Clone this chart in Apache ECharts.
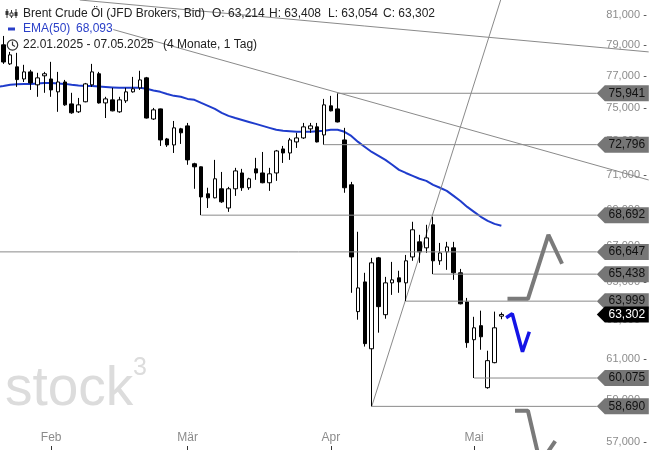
<!DOCTYPE html>
<html><head><meta charset="utf-8">
<script src="https://cdn.jsdelivr.net/npm/echarts@6/dist/echarts.min.js"></script>
<style>html,body{margin:0;padding:0;background:#fff}#c{width:650px;height:450px}</style>
</head><body><div id="c"></div>
<script>
// ---- data ----
const dates = ['2025-01-22','2025-01-23','2025-01-24','2025-01-27','2025-01-28','2025-01-29','2025-01-30','2025-01-31',
'2025-02-03','2025-02-04','2025-02-05','2025-02-06','2025-02-07','2025-02-10','2025-02-11','2025-02-12','2025-02-13','2025-02-14',
'2025-02-17','2025-02-18','2025-02-19','2025-02-20','2025-02-21','2025-02-24','2025-02-25','2025-02-26','2025-02-27','2025-02-28',
'2025-03-03','2025-03-04','2025-03-05','2025-03-06','2025-03-07','2025-03-10','2025-03-11','2025-03-12','2025-03-13','2025-03-14',
'2025-03-17','2025-03-18','2025-03-19','2025-03-20','2025-03-21','2025-03-24','2025-03-25','2025-03-26','2025-03-27','2025-03-28','2025-03-31',
'2025-04-01','2025-04-02','2025-04-03','2025-04-04','2025-04-07','2025-04-08','2025-04-09','2025-04-10','2025-04-11','2025-04-14',
'2025-04-15','2025-04-16','2025-04-17','2025-04-21','2025-04-22','2025-04-23','2025-04-24','2025-04-25','2025-04-28','2025-04-29','2025-04-30',
'2025-05-01','2025-05-02','2025-05-05','2025-05-06','2025-05-07'];
const futureDates = ['2025-05-08','2025-05-09','2025-05-12','2025-05-13','2025-05-14','2025-05-15','2025-05-16','2025-05-19','2025-05-20',
'2025-05-21','2025-05-22','2025-05-23','2025-05-26','2025-05-27','2025-05-28','2025-05-29','2025-05-30','2025-06-02','2025-06-03','2025-06-04','2025-06-05'];

const open = [79.90,79.03,77.80,77.61,76.84,77.29,76.47,77.04,76.84,76.03,
 76.65,75.28,74.79,75.41,76.47,77.17,75.34,75.53,74.79,75.47,
 76.03,76.28,76.91,74.35,74.97,73.14,72.78,73.75,73.93,71.66,
 71.48,69.91,69.68,70.20,69.10,70.20,71.12,70.26,71.36,71.12,
 70.55,71.12,72.54,72.30,72.96,73.20,73.75,73.87,73.38,75.16,
 74.97,73.08,70.43,63.45,65.02,61.54,66.32,63.29,64.97,65.24,
 64.97,66.37,67.20,66.87,68.15,66.16,66.65,66.87,65.51,63.96,
 62.00,62.72,59.60,60.84,63.214];
const high = [80.30,79.61,78.57,78.51,77.74,77.42,77.23,77.29,77.93,77.29,
 76.78,75.97,75.65,76.59,77.80,77.29,75.72,76.28,75.72,76.28,
 76.97,77.36,76.97,75.03,74.99,73.20,74.23,73.81,74.11,71.72,
 71.50,70.26,71.89,71.18,70.31,71.42,71.36,70.84,72.01,72.36,
 71.42,72.48,72.72,73.20,73.51,74.11,74.11,74.11,75.59,75.78,
 75.941,73.81,70.60,67.76,65.51,66.32,66.37,65.29,66.10,65.62,
 66.48,68.32,67.59,68.15,68.60,67.14,67.20,67.20,65.72,64.17,
 63.18,63.50,61.44,63.45,63.408];
const low = [78.80,77.80,77.73,76.34,76.65,76.15,75.72,75.97,75.72,74.79,
 75.16,74.67,74.72,75.38,76.34,75.30,74.41,74.82,74.73,75.34,
 75.98,76.15,74.38,74.29,72.72,72.66,72.30,72.84,71.60,70.20,
 68.692,69.10,69.65,69.39,68.88,69.79,70.08,70.14,70.72,70.52,
 70.08,70.66,71.71,71.89,72.60,73.14,73.51,72.93,72.796,74.82,
 74.14,69.97,64.44,63.03,61.65,58.69,62.36,63.08,64.33,64.44,
 63.999,66.16,66.05,66.59,65.438,65.94,65.67,65.13,63.83,61.59,
 60.075,61.49,59.55,60.81,63.054];
const close = [79.10,77.92,78.38,76.80,77.29,76.59,76.91,77.17,76.15,76.65,
 75.22,74.73,75.22,76.53,77.29,75.34,75.59,74.85,75.53,76.03,
 76.22,76.78,74.41,74.91,73.08,72.78,73.81,73.51,71.89,71.48,
 69.73,69.68,70.78,69.45,70.20,71.24,70.26,70.78,71.12,70.55,
 71.07,72.42,72.30,73.08,73.20,73.87,73.93,72.96,75.22,74.85,
 74.17,70.26,66.37,64.70,61.80,66.05,63.71,64.97,65.13,65.02,
 66.16,67.87,66.65,67.42,66.16,66.59,66.92,65.51,63.86,61.85,
 62.61,62.15,60.94,62.61,63.302];
const ema50 = [76.34,76.40,76.47,76.50,76.53,76.53,76.56,76.59,76.59,76.56,
 76.53,76.47,76.43,76.40,76.40,76.37,76.34,76.31,76.28,76.28,
 76.28,76.28,76.22,76.12,76.03,75.90,75.78,75.72,75.59,75.53,
 75.34,75.16,74.97,74.73,74.54,74.41,74.29,74.17,74.05,73.93,
 73.81,73.69,73.63,73.60,73.57,73.57,73.57,73.60,73.63,73.69,
 73.69,73.57,73.32,72.96,72.66,72.36,72.13,71.89,71.60,71.30,
 71.12,70.95,70.78,70.66,70.43,70.26,70.08,69.79,69.50,69.16,
 68.88,68.60,68.37,68.20,68.093];

const yTicks = [57,59,61,63,65,67,69,71,73,75,77,79,81];
const yMin = 56.62, yMax = 82.0;
const monthTickDates = ['2025-02-03','2025-03-03','2025-04-01','2025-05-01'];
const monthTickLabels = ['Feb','Mär','Apr','Mai'];

// horizontal levels and the date where each starts (null = left edge)
const levels = [75.941, 72.796, 68.692, 66.647, 65.438, 63.999, 60.075, 58.690];
const levelStart = ['2025-04-02','2025-03-31','2025-03-05', null,'2025-04-23','2025-04-16','2025-05-01','2025-04-09'];
const tagDate = '2025-05-27';

// drawn trend lines: [trading-day index, price]
const trendA = [[12.2, 82.0], [95.6, 78.57]];
const trendB = [[17.1, 80.03], [95.6, 70.71]];
const trendC = [[55, 58.69], [73.9, 82.0]];
const scenarioUp = [[74.9, 64.12], [77.9, 64.12], [80.9, 67.59], [82.9, 66.0]];
const scenarioBlue = [[74.7, 63.13], [75.6, 63.34], [77.1, 61.39], [78.1, 62.41]];
const scenarioDown = [[76.0, 58.48], [77.9, 58.48], [79.7, 56.0], [81.9, 57.04]];

// ---- chart ----
const FONT = '"Liberation Sans", Arial, sans-serif';
const fmt = v => Number(v).toFixed(3).replace('.', ',');
const fmtDate = d => d.slice(8,10) + '.' + d.slice(5,7) + '.' + d.slice(0,4);
const allDates = dates.concat(futureDates);
const idx = d => allDates.indexOf(d);
const tagIdx = idx(tagDate);
const last = dates.length - 1;
const firstShown = 1; // 22.01 lies just left of the visible area
const candleData = dates.map((d, i) => [open[i], close[i], low[i], high[i]]);
const tagPath = 'path://M0,8 L8,0 L52,0 L52,16 L8,16 Z';

function lineSeries(data, color, width, z) {
  return { type: 'line', xAxisIndex: 1, data, symbol: 'none', silent: true, z: z || 3,
    lineStyle: { color, width }, animation: false };
}

const series = [
  { type: 'line', name: 'EMA(50)', data: ema50, symbol: 'none', z: 2, silent: true,
    lineStyle: { color: '#1f3ccc', width: 2 } },
  { type: 'candlestick', data: candleData, barWidth: 4, z: 3, silent: true,
    itemStyle: { color: '#ffffff', color0: '#000000', borderColor: '#000000', borderColor0: '#000000', borderWidth: 1 } },
  lineSeries(trendA, '#8a8a8a', 1),
  lineSeries(trendB, '#8a8a8a', 1),
  lineSeries(trendC, '#8a8a8a', 1),
  lineSeries(scenarioUp, '#7a7a7a', 4, 6),
  lineSeries(scenarioDown, '#7a7a7a', 4, 6),
  lineSeries(scenarioBlue, '#1414e6', 3.5, 6)
];
levels.forEach((lv, k) => {
  const s = levelStart[k] ? idx(levelStart[k]) : firstShown - 0.5;
  const ser = lineSeries([[s, lv], [tagIdx, lv]], '#8a8a8a', 1, 4);
  ser.markPoint = {
    symbol: tagPath, symbolSize: [52, 16], symbolOffset: [26, 0], silent: true, animation: false,
    itemStyle: { color: '#767676' },
    label: { show: true, position: 'inside', offset: [4, 0], color: '#111', fontSize: 12, fontFamily: FONT,
      formatter: p => fmt(p.value) },
    data: [{ coord: [tagIdx, lv], value: lv }]
  };
  series.push(ser);
});
series.push({
  type: 'line', xAxisIndex: 1, data: [[tagIdx, close[last]]], symbol: 'none', z: 8, silent: true,
  markPoint: {
    symbol: tagPath, symbolSize: [52, 16], symbolOffset: [26, 0], silent: true, animation: false,
    itemStyle: { color: '#000' },
    label: { show: true, position: 'inside', offset: [4, 0], color: '#fff', fontSize: 12, fontFamily: FONT,
      formatter: p => fmt(p.value) },
    data: [{ coord: [tagIdx, close[last]], value: close[last] }]
  }
});

const ohlcText = [['O', open[last], 212], ['H', high[last], 269], ['L', low[last], 328], ['C', close[last], 383]];
const LF = '12px "Liberation Sans", Arial, sans-serif';
const graphics = [
  { type: 'text', x: 5, y: 390, z: 0, silent: true,
    style: { text: 'stock', font: '55px "Liberation Sans", Arial, sans-serif', fill: '#dcdcdc', verticalAlign: 'middle' } },
  { type: 'text', x: 133, y: 368, z: 0, silent: true,
    style: { text: '3', font: '25px "Liberation Sans", Arial, sans-serif', fill: '#dcdcdc', verticalAlign: 'middle' } },
  { type: 'text', x: 23, y: 14, z: 100, style: { text: 'Brent Crude Öl (JFD Brokers, Bid)', font: LF, fill: '#222', verticalAlign: 'middle' } },
  { type: 'text', x: 23, y: 29, z: 100, style: { text: 'EMA(50)', font: LF, fill: '#2a3fc8', verticalAlign: 'middle' } },
  { type: 'text', x: 76, y: 29, z: 100, style: { text: fmt(ema50[last]), font: LF, fill: '#2a3fc8', verticalAlign: 'middle' } },
  { type: 'text', x: 23, y: 45, z: 100, style: { text: fmtDate(dates[0]) + ' - ' + fmtDate(dates[last]), font: LF, fill: '#222', verticalAlign: 'middle' } },
  { type: 'text', x: 163, y: 45, z: 100, style: { text: '(4 Monate, 1 Tag)', font: LF, fill: '#222', verticalAlign: 'middle' } },
  // icons
  { type: 'rect', z: 100, shape: { x: 8, y: 27.5, width: 7, height: 3 }, style: { fill: '#2a3fc8' } },
  { type: 'circle', z: 100, shape: { cx: 12.5, cy: 45, r: 5.2 }, style: { fill: 'none', stroke: '#333', lineWidth: 1.2 } },
  { type: 'polyline', z: 100, shape: { points: [[12.5, 41.5], [12.5, 45], [15, 46.5]] }, style: { fill: 'none', stroke: '#333', lineWidth: 1.2 } },
  { type: 'line', z: 100, shape: { x1: 7, y1: 9, x2: 7, y2: 18 }, style: { stroke: '#333', lineWidth: 1 } },
  { type: 'rect', z: 100, shape: { x: 5.5, y: 11, width: 3, height: 4 }, style: { fill: '#333' } },
  { type: 'line', z: 100, shape: { x1: 11.5, y1: 10, x2: 11.5, y2: 18 }, style: { stroke: '#333', lineWidth: 1 } },
  { type: 'rect', z: 100, shape: { x: 10, y: 13, width: 3, height: 3 }, style: { fill: '#fff', stroke: '#333', lineWidth: 1 } },
  { type: 'line', z: 100, shape: { x1: 16, y1: 9, x2: 16, y2: 18 }, style: { stroke: '#333', lineWidth: 1 } },
  { type: 'rect', z: 100, shape: { x: 14.5, y: 12, width: 3, height: 4 }, style: { fill: '#333' } }
];
ohlcText.forEach(t => graphics.push({ type: 'text', x: t[2], y: 14, z: 100,
  style: { text: t[0] + ': ' + fmt(t[1]), font: LF, fill: '#222', verticalAlign: 'middle' } }));

const chart = echarts.init(document.getElementById('c'), null, { renderer: 'canvas' });
chart.setOption({
  animation: false,
  backgroundColor: '#ffffff',
  grid: { left: 0, right: 1, top: 0, bottom: 0, containLabel: false },
  xAxis: [{
    type: 'category', data: allDates, boundaryGap: true, min: firstShown,
    axisLine: { show: false }, splitLine: { show: false },
    axisTick: { show: true, inside: true, length: 4, alignWithLabel: true,
      interval: (i, v) => monthTickDates.includes(v), lineStyle: { color: '#333' } },
    axisLabel: { inside: true, margin: 6, interval: (i, v) => monthTickDates.includes(v),
      formatter: v => monthTickLabels[monthTickDates.indexOf(v)], color: '#8c8c8c', fontSize: 12, fontFamily: FONT }
  }, {
    type: 'value', min: firstShown - 0.5, max: allDates.length - 0.5, show: false
  }],
  yAxis: {
    type: 'log', logBase: 10, min: yMin, max: yMax, position: 'right',
    axisLine: { show: false }, splitLine: { show: false },
    axisTick: { show: false },
    axisLabel: { inside: true, margin: 1, customValues: yTicks,
      formatter: v => '{a|' + fmt(v) + '} {b|-}',
      rich: { a: { color: '#8c8c8c', fontSize: 11, fontFamily: FONT }, b: { color: '#444', fontSize: 11, fontFamily: FONT } } }
  },
  series,
  graphic: graphics
});
</script>
</body></html>
